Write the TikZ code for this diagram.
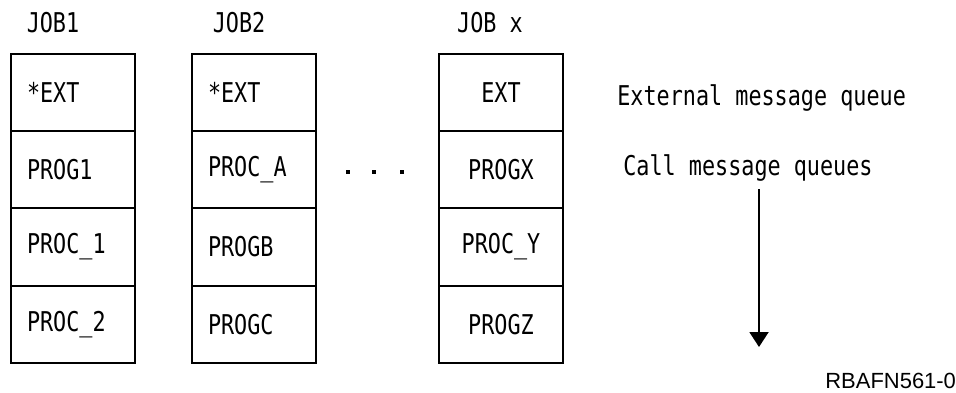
\documentclass[tikz,border=0pt]{standalone}
\usepackage{fontspec}
\setmainfont{DejaVu Sans Mono}[FakeStretch=0.8]
\newfontfamily\tagfont{Liberation Sans}
\usetikzlibrary{arrows.meta,positioning}
\tikzset{
  cell/.style={rectangle,draw=black,line width=1.1pt,outer sep=0pt,inner sep=0pt,
    minimum width=2.48cm,minimum height=1.545cm,font=\fontsize{15.5}{18}\selectfont},
  lcell/.style={cell,align=left,text width=1.84cm,inner xsep=0.32cm},
  jb/.style={font=\fontsize{15.5}{18}\selectfont},
  lb/.style={font=\fontsize{15.5}{18}\selectfont,anchor=west,inner sep=0pt},
  dt/.style={rectangle,fill=black,minimum size=0.08cm,inner sep=0pt},
  flow/.style={-{Triangle[length=0.3cm,width=0.38cm]},line width=1.1pt,draw=black},
}
\begin{document}
\begin{tikzpicture}[x=0.02cm,y=-0.02cm]
\useasboundingbox (0,0) rectangle (956,392);
% ---- JOB1
\node[jb] (t1) at (53,23) {JOB1};
\node[lcell] (a1) at (73,92.6) {*EXT};
\node[lcell,below=0pt of a1] (a2) {PROG1};
\node[lcell,below=0pt of a2] (a3) {PROC\_1};
\node[lcell,below=0pt of a3] (a4) {PROC\_2};
% ---- JOB2
\node[jb] (t2) at (239,23) {JOB2};
\node[lcell] (b1) at (254,92.6) {*EXT};
\node[lcell,below=0pt of b1] (b2) {PROC\_A};
\node[lcell,below=0pt of b2] (b3) {PROGB};
\node[lcell,below=0pt of b3] (b4) {PROGC};
% ---- dots
\node[dt] (d1) at (348,172) {};
\node[dt] (d2) at (374,172) {};
\node[dt] (d3) at (402,172) {};
% ---- JOB x
\node[jb] (tx) at (490,23) {JOB x};
\node[cell] (c1) at (501,92.6) {EXT};
\node[cell,below=0pt of c1] (c2) {PROGX};
\node[cell,below=0pt of c2] (c3) {PROC\_Y};
\node[cell,below=0pt of c3] (c4) {PROGZ};
% ---- queues
\node[lb] (ext) at (617,98) {External message queue};
\node[lb] (call) at (623,168) {Call message queues};
\coordinate (qend) at (759,347);
\draw[flow] (qend |- 0,189) -- (qend);
\node[anchor=west,inner sep=0pt,font=\tagfont\fontsize{12.5}{14}\selectfont] (tag) at (825,381) {RBAFN561-0};
\end{tikzpicture}
\end{document}
